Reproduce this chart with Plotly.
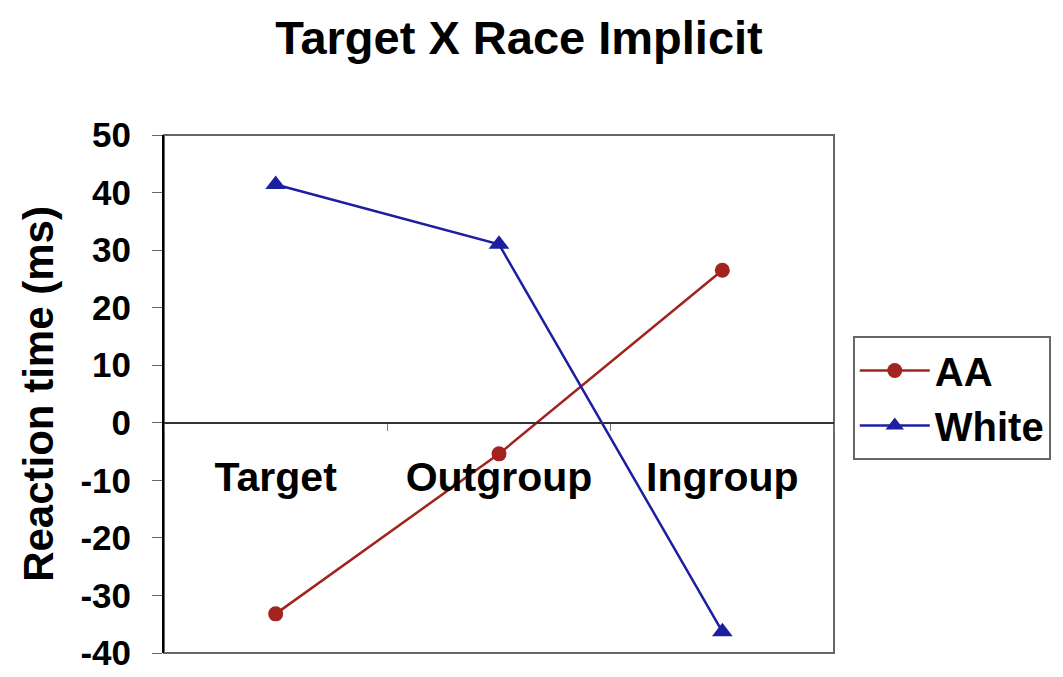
import plotly.graph_objects as go

categories = ["Target", "Outgroup", "Ingroup"]
aa_values = [-33.2, -5.4, 26.5]
white_values = [41.4, 31.0, -36.3]
y_ticks = [-40, -30, -20, -10, 0, 10, 20, 30, 40, 50]

font_family = "Arial, Liberation Sans, sans-serif"
y_min, y_max = -40, 50

fig = go.Figure()
fig.add_trace(go.Scatter(x=categories, y=aa_values, name="<b>AA</b>",
                         mode="lines+markers",
                         line=dict(color="#A3231F", width=2.5),
                         marker=dict(symbol="circle", size=15, color="#A3231F")))
fig.add_trace(go.Scatter(x=categories, y=white_values, name="<b>White</b>",
                         mode="lines+markers",
                         line=dict(color="#1C1FA0", width=2.5),
                         marker=dict(symbol="triangle-up", size=18, color="#1C1FA0")))

# gray frame around plot area
fig.add_shape(type="rect", xref="paper", yref="paper", x0=0, x1=1, y0=0, y1=1,
              line=dict(color="#666666", width=2), layer="below")

zero_pos = (0 - y_min) / (y_max - y_min)

# page body adds 8px, so figure is a bit smaller than the window
fig.update_layout(
    width=1055, height=669,
    margin=dict(l=156, r=225, t=127, b=24),
    paper_bgcolor="white", plot_bgcolor="white",
    font=dict(family=font_family, color="black"),
    title=dict(text="<b>Target X Race Implicit</b>", x=(519 - 8) / 1055, xanchor="center",
               y=1 - 30 / 669, yanchor="middle", font=dict(size=47)),
    xaxis=dict(type="category", range=[-0.5, 2.5], anchor="free", position=zero_pos,
               showline=True, linecolor="#333333", linewidth=2,
               ticks="outside", tickson="boundaries", ticklen=7, tickcolor="#777777",
               showgrid=False, zeroline=False, automargin=False,
               tickfont=dict(size=41), ticklabelstandoff=18,
               tickvals=categories, ticktext=["<b>%s</b>" % c for c in categories]),
    yaxis=dict(range=[y_min, y_max], tickvals=y_ticks,
               ticktext=["<b>%d</b>" % v for v in y_ticks],
               showline=True, linecolor="black", linewidth=2,
               ticks="outside", ticklen=10, tickcolor="#666666",
               showgrid=False, zeroline=False, tickfont=dict(size=35),
               ticklabelstandoff=14, ticklabeloverflow="allow", automargin=False,
               title=dict(text="<b>Reaction time (ms)</b>", font=dict(size=42), standoff=14)),
    legend=dict(x=1.028, y=0.612, xanchor="left", yanchor="top",
                bordercolor="#666666", borderwidth=2, bgcolor="white",
                font=dict(size=40), itemwidth=70),
    showlegend=True,
)

fig.write_html("out.html")
